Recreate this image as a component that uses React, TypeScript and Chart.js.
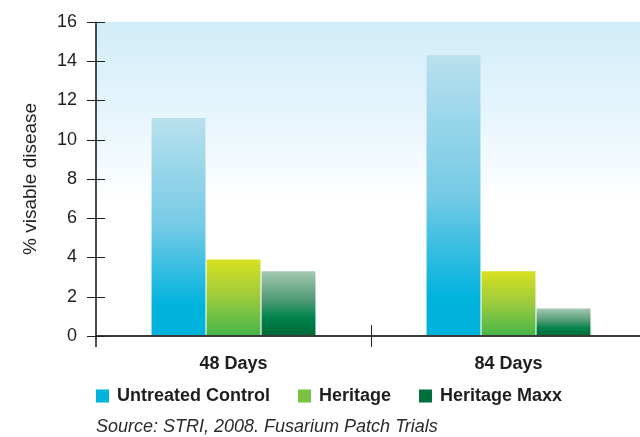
import React, { useEffect, useRef } from "react";
import { Chart, registerables } from "chart.js";

Chart.register(...registerables);

const categories = ["48 Days", "84 Days"];
const seriesNames = ["Untreated Control", "Heritage", "Heritage Maxx"];
const untreated = [11.1, 14.3];
const heritage = [3.9, 3.3];
const heritageMaxx = [3.3, 1.4];
const yTicks = [0, 2, 4, 6, 8, 10, 12, 14, 16];
const yTitle = "% visable disease";
const sourceNote = "Source: STRI, 2008. Fusarium Patch Trials";

const FONT = "'Liberation Sans', Arial, Helvetica, sans-serif";
const TEXT = "#1e1e1e";

const legendColors = ["#00b3dc", "#7cc142", "#00703b"];
const gradientStops: [number, string][][] = [
  [[0, "#b9e0ed"], [0.5, "#74cae6"], [0.86, "#00b3dd"], [1, "#00b2dc"]],
  [[0, "#d8e020"], [0.5, "#9ccb3e"], [1, "#44b549"]],
  [[0, "#a4c9b2"], [0.45, "#4f9a74"], [0.72, "#00834e"], [1, "#006a36"]],
];

const seriesValues = [untreated, heritage, heritageMaxx];

const makeFill = (i: number) => (c: any) => {
  const chart = c.chart;
  const ys = chart.scales?.y;
  if (!ys || !chart.chartArea || c.type !== "data") return legendColors[i];
  const top = ys.getPixelForValue(c.raw as number);
  const bot = ys.getPixelForValue(0);
  if (!isFinite(top) || !isFinite(bot) || top === bot) return legendColors[i];
  const g = chart.ctx.createLinearGradient(0, top, 0, bot);
  gradientStops[i].forEach(([o, col]) => g.addColorStop(o, col));
  return g;
};

const decorPlugin = {
  id: "decor",
  beforeDatasetsDraw(chart: any) {
    const { ctx, chartArea: a, scales } = chart;
    const y = scales.y;
    const yEnd = y.getPixelForValue(6.8);
    const g = ctx.createLinearGradient(0, a.top, 0, yEnd);
    g.addColorStop(0, "#d1edf9");
    g.addColorStop(0.5, "#e6f5fc");
    g.addColorStop(1, "#ffffff");
    ctx.save();
    ctx.fillStyle = g;
    ctx.fillRect(a.left, a.top, a.right - a.left, yEnd - a.top);
    ctx.restore();
  },
  afterDatasetsDraw(chart: any) {
    const { ctx, chartArea: a, scales } = chart;
    const x = scales.x;
    const y = scales.y;
    ctx.save();
    // x axis
    ctx.strokeStyle = "#3a3a3a";
    ctx.lineWidth = 2;
    ctx.beginPath();
    ctx.moveTo(a.left, a.bottom);
    ctx.lineTo(a.right, a.bottom);
    ctx.stroke();
    // y axis
    ctx.strokeStyle = "#111";
    ctx.lineWidth = 1.5;
    ctx.beginPath();
    ctx.moveTo(a.left, a.top);
    ctx.lineTo(a.left, a.bottom + 11);
    ctx.stroke();
    // y ticks crossing the axis
    ctx.lineWidth = 1;
    ctx.strokeStyle = "#222";
    y.ticks.forEach((_t: any, idx: number) => {
      const py = Math.round(y.getPixelForTick(idx)) + 0.5;
      ctx.beginPath();
      ctx.moveTo(a.left - 9, py);
      ctx.lineTo(a.left + 9, py);
      ctx.stroke();
    });
    // category divider
    for (let i = 0; i < categories.length - 1; i++) {
      const px = Math.round((x.getPixelForValue(i) + x.getPixelForValue(i + 1)) / 2) + 0.5;
      ctx.beginPath();
      ctx.moveTo(px, a.bottom - 11);
      ctx.lineTo(px, a.bottom + 11);
      ctx.stroke();
    }
    ctx.restore();
  },
  afterDraw(chart: any) {
    const { ctx, chartArea: a } = chart;
    ctx.save();
    // legend
    const ly = a.bottom + 60;
    let lx = a.left;
    ctx.font = `bold 18px ${FONT}`;
    ctx.textBaseline = "middle";
    ctx.textAlign = "left";
    chart.data.datasets.forEach((ds: any, i: number) => {
      ctx.fillStyle = legendColors[i];
      ctx.fillRect(lx, ly - 6.5, 13, 13);
      lx += 13 + 8;
      ctx.fillStyle = TEXT;
      ctx.fillText(ds.label, lx, ly);
      lx += ctx.measureText(ds.label).width + 28;
    });
    // source note
    ctx.font = `italic 18px ${FONT}`;
    ctx.fillStyle = "#2a2a2a";
    ctx.fillText(sourceNote, a.left, a.bottom + 91);
    ctx.restore();
  },
};

export default function App() {
  const ref = useRef<HTMLCanvasElement | null>(null);
  useEffect(() => {
    if (!ref.current) return;
    const chart = new Chart(ref.current, {
      type: "bar",
      data: {
        labels: categories,
        datasets: seriesNames.map((name, i) => ({
          label: name,
          data: seriesValues[i],
          backgroundColor: makeFill(i),
          borderWidth: 0,
          barPercentage: 0.98,
          categoryPercentage: 0.6,
        })),
      },
      options: {
        animation: false,
        responsive: true,
        maintainAspectRatio: false,
        layout: { padding: { top: 13, right: 0, left: 0, bottom: 0 } },
        plugins: {
          legend: { display: false },
          tooltip: { enabled: false },
          title: { display: false },
        },
        scales: {
          x: {
            grid: { display: false },
            border: { display: false },
            ticks: {
              font: { family: FONT, size: 18, weight: "bold" },
              color: TEXT,
              padding: 9,
            },
            afterFit: (s: any) => {
              s.height = 101;
            },
          },
          y: {
            min: 0,
            max: 16,
            grid: { display: false },
            border: { display: false },
            afterBuildTicks: (s: any) => {
              s.ticks = yTicks.map((v) => ({ value: v }));
            },
            ticks: {
              font: { family: FONT, size: 18 },
              color: TEXT,
              padding: 11,
            },
            title: {
              display: true,
              text: yTitle,
              font: { family: FONT, size: 19 },
              color: TEXT,
              padding: { top: 19, bottom: 0 },
            },
            afterFit: (s: any) => {
              s.width = 96;
            },
          },
        },
      },
      plugins: [decorPlugin],
    });
    return () => chart.destroy();
  }, []);
  return (
    <div style={{ position: "absolute", left: 0, top: 0, width: 640, height: 437, overflow: "hidden", background: "#fff" }}>
      <div style={{ position: "relative", width: 646, height: 437 }}>
        <canvas ref={ref} />
      </div>
    </div>
  );
}
